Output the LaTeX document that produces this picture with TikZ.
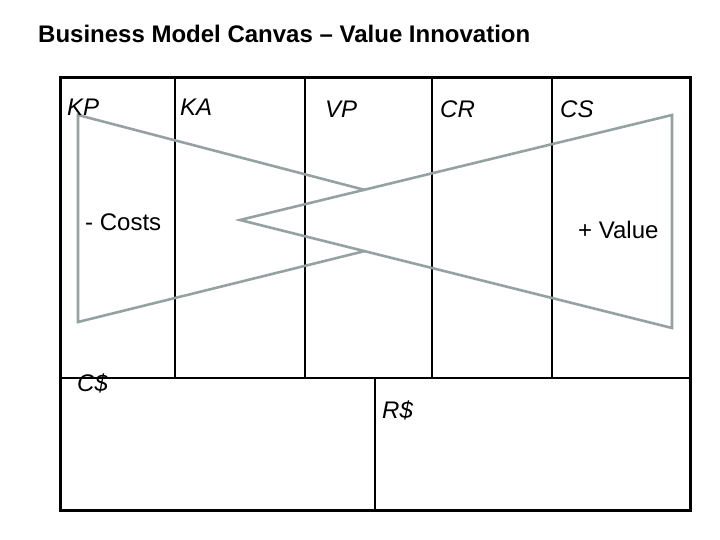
\documentclass[tikz,border=0pt]{standalone}
\usepackage{fontspec}
\setmainfont{Liberation Sans}
\begin{document}
\begin{tikzpicture}[x=1pt,y=-1pt,
  lbl/.style={font=\fontsize{24}{27}\selectfont\itshape, anchor=base west, inner sep=0},
  txt/.style={font=\fontsize{24}{27}\selectfont, anchor=base west, inner sep=0},
  grid/.style={line width=1.3pt},
  tri/.style={line width=2.6pt, draw={rgb,255:red,150;green,162;blue,162}, line join=miter}]
\useasboundingbox (0,0) rectangle (720,540);
\node[font=\fontsize{24}{27}\bfseries\selectfont, anchor=base west, inner sep=0] (title) at (38,43) {Business Model Canvas – Value Innovation};
% grid
\coordinate (tl) at (60,78); \coordinate (br) at (690,510);
\draw[grid] (60,378) -- (690,378);
\foreach \x in {175,305,432,552} \draw[grid] (\x,78) -- (\x,378);
\draw[grid] (375,378) -- (375,510);
\draw[line width=3pt] (tl) rectangle (br);
% triangles
\coordinate (la) at (78,115); \coordinate (lb) at (78,322);
\coordinate (lc) at (365,190); \coordinate (ld) at (365,251);
\coordinate (ra) at (672,115); \coordinate (rb) at (672,328); \coordinate (rx) at (240,220);
\draw[tri] (lc) -- (la) -- (lb) -- (ld);
\draw[tri] (ra) -- (rx) -- (rb) -- cycle;
% labels
\node[lbl] (kp) at (67,116) {KP};
\node[lbl] (ka) at (180,116) {KA};
\node[lbl] (vp) at (325,118) {VP};
\node[lbl] (cr) at (440,118) {CR};
\node[lbl] (cs) at (560,118) {CS};
\node[txt] (costs) at (85,230) {- Costs};
\node[txt] (value) at (578,238) {+ Value};
\node[lbl] (cd) at (77,391) {C\$};
\node[lbl] (rd) at (382,418) {R\$};
\end{tikzpicture}
\end{document}
